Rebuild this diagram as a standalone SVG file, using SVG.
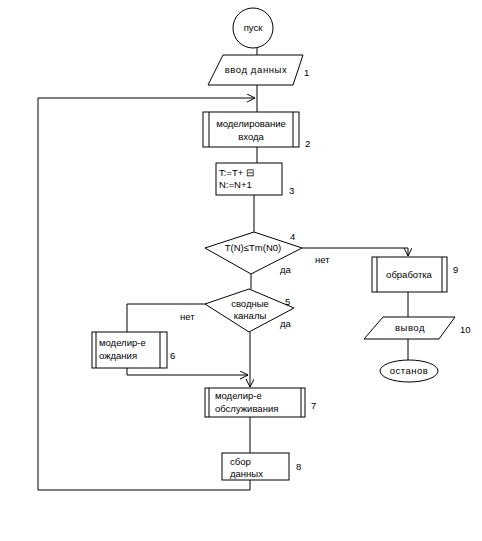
<svg xmlns="http://www.w3.org/2000/svg" width="482" height="541" viewBox="0 0 482 541">
<style>
.s{fill:#fff;stroke:#000;stroke-width:1}
.l{fill:none;stroke:#000;stroke-width:1}
text{font-family:"Liberation Sans",Arial,sans-serif;font-size:9.5px;fill:#000}
.c{text-anchor:middle}
</style>
<defs>
<marker id="a" markerWidth="10" markerHeight="10" refX="8" refY="4" orient="auto" markerUnits="userSpaceOnUse">
<path d="M0,0 L8,4 L0,8" fill="none" stroke="#000" stroke-width="1"/>
</marker>
</defs>
<rect width="482" height="541" fill="#fff"/>
<g id="connectors">
<path class="l" d="M257,48 V55"/>
<path class="l" d="M257,85 V112"/>
<path class="l" d="M257,147 V163"/>
<path class="l" d="M254,195 V232"/>
<path class="l" d="M302,248 H408 V256" marker-end="url(#a)"/>
<path class="l" d="M408,292 V317"/>
<path class="l" d="M408,339 V360"/>
<path class="l" d="M251,274 V289"/>
<path class="l" d="M205,304 H127 V332"/>
<path class="l" d="M127,368 V375 H248" marker-end="url(#a)"/>
<path class="l" d="M250,332 V387" marker-end="url(#a)"/>
<path class="l" d="M250,417 V453"/>
<path class="l" d="M250,480 V490 H38 V98 H255" marker-end="url(#a)"/>
</g>
<g id="n-start"><ellipse class="s" cx="253" cy="28" rx="20" ry="20"/><text class="c" x="253" y="31">пуск</text></g>
<g id="n1"><path class="s" d="M223,55 H303 L293,85 H208 Z"/><text class="c" x="256" y="73" letter-spacing="0.6">ввод данных</text><text x="304" y="76">1</text></g>
<g id="n2"><rect class="s" x="203" y="112" width="96" height="35"/><path class="l" d="M209,112 V147 M293,112 V147"/><text class="c" x="251" y="127">моделирование</text><text class="c" x="251" y="140">входа</text><text x="305" y="147">2</text></g>
<g id="n3"><rect class="s" x="216" y="163" width="66" height="32"/><text x="219" y="176">T:=T+ ⊟</text><text x="219" y="188">N:=N+1</text><text x="289" y="194">3</text></g>
<g id="n4"><path class="s" d="M254,232 L302,248 L251,274 L205,248 Z"/><text class="c" x="253" y="251">T(N)≤Tm(N0)</text><text x="290" y="240">4</text><text x="315" y="263">нет</text><text x="280" y="273">да</text></g>
<g id="n5"><path class="s" d="M249,289 L294,308 L249,332 L205,304 Z"/><text class="c" x="250" y="307">сводные</text><text class="c" x="250" y="319">каналы</text><text x="285" y="305">5</text><text x="280" y="327">да</text><text x="180" y="320">нет</text></g>
<g id="n6"><rect class="s" x="92" y="332" width="75" height="36"/><path class="l" d="M96,332 V368 M160,332 V368"/><text x="99" y="346">моделир-е</text><text x="99" y="359">ождания</text><text x="170" y="359">6</text></g>
<g id="n7"><rect class="s" x="205" y="388" width="100" height="29"/><path class="l" d="M209,388 V417 M301,388 V417"/><text x="215" y="399">моделир-е</text><text x="215" y="412">обслуживания</text><text x="311" y="409">7</text></g>
<g id="n8"><rect class="s" x="222" y="453" width="67" height="27"/><text x="230" y="465">сбор</text><text x="230" y="477">данных</text><text x="296" y="470">8</text></g>
<g id="n9"><rect class="s" x="372" y="257" width="75" height="35"/><path class="l" d="M377,257 V292 M442,257 V292"/><text class="c" x="409" y="278">обработка</text><text x="453" y="273">9</text></g>
<g id="n10"><path class="s" d="M383,317 H455 L439,339 H364 Z"/><text class="c" x="410" y="331" letter-spacing="0.5">вывод</text><text x="460" y="333">10</text></g>
<g id="n-stop"><ellipse class="s" cx="409" cy="371" rx="29" ry="11"/><text class="c" x="409" y="374" letter-spacing="0.5">останов</text></g>
</svg>
